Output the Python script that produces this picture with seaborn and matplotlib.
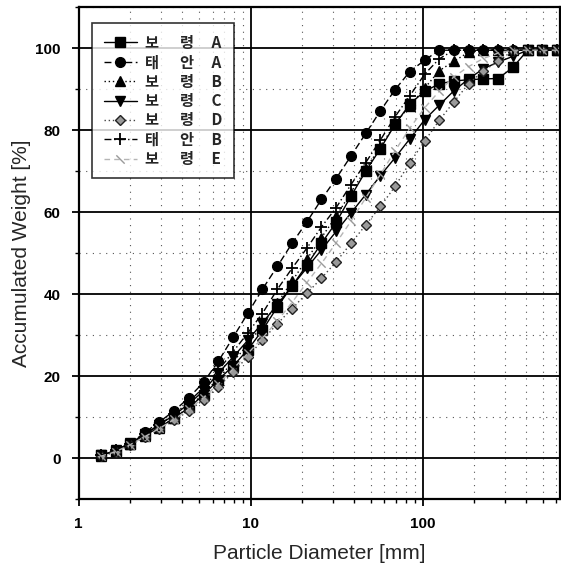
import numpy as np
import pandas as pd
import seaborn as sns
import matplotlib
matplotlib.use("Agg")
import matplotlib.pyplot as plt
from matplotlib.ticker import LogLocator, FixedLocator, NullFormatter, MultipleLocator

sns.set_style("white")
plt.rcParams['font.family'] = ['Liberation Sans', 'Noto Sans CJK KR', 'DejaVu Sans']

# sieve sizes [mm], shared by all samples
diameter = [1.34, 1.64, 1.99, 2.43, 2.95, 3.60, 4.38, 5.34, 6.50, 7.91,
            9.64, 11.7, 14.3, 17.4, 21.2, 25.8, 31.4, 38.3, 46.7, 56.8,
            69.2, 84.3, 103, 125, 152, 185, 226, 275, 335, 408, 497, 605]

# accumulated weight [%]
boryeong_a = [0.7, 1.8, 3.5, 5.6, 7.6, 9.8, 12.4, 15.5, 19.2, 22.5,
              26.5, 31.2, 36.9, 42.0, 47.1, 52.4, 57.5, 63.9, 70.0, 75.5,
              81.4, 86.4, 89.5, 91.3, 92.0, 92.3, 92.5, 92.6, 95.3, 99.5, 99.5, 99.5]
taean_a = [0.8, 2.0, 3.6, 6.3, 8.9, 11.6, 14.8, 18.6, 23.7, 29.5,
           35.4, 41.2, 46.8, 52.4, 57.6, 63.1, 68.2, 73.7, 79.2, 84.7,
           89.9, 94.3, 97.1, 99.5, 99.5, 99.5, 99.5, 99.5, 99.5, 99.5, 99.5, 99.5]
boryeong_b = [0.6, 1.7, 3.4, 5.5, 7.5, 9.8, 12.6, 15.8, 19.6, 23.5,
              27.8, 32.5, 37.8, 43.2, 48.5, 53.8, 59.0, 64.8, 70.5, 76.0,
              81.5, 86.0, 90.3, 94.5, 96.8, 99.0, 99.5, 99.5, 99.5, 99.5, 99.5, 99.5]
boryeong_c = [0.7, 1.9, 3.7, 5.9, 8.2, 10.6, 13.3, 16.5, 20.8, 24.7,
              28.8, 33.0, 37.5, 42.0, 46.4, 50.8, 55.3, 59.8, 64.3, 68.9,
              73.3, 77.9, 82.6, 86.1, 89.6, 92.5, 95.0, 96.6, 98.0, 99.5, 99.5, 99.5]
boryeong_d = [0.5, 1.5, 3.2, 5.2, 7.2, 9.3, 11.6, 14.3, 17.4, 21.0,
              24.8, 28.8, 32.8, 36.5, 40.2, 43.9, 47.9, 52.4, 56.9, 61.4,
              66.3, 72.1, 77.4, 82.4, 86.9, 91.3, 94.5, 96.8, 99.4, 99.5, 99.5, 99.5]
taean_b = [0.7, 1.9, 3.6, 5.9, 8.2, 10.8, 13.8, 17.3, 21.5, 26.0,
           30.6, 35.3, 41.2, 46.3, 51.2, 56.4, 61.1, 66.7, 72.1, 77.6,
           83.3, 88.4, 93.7, 97.4, 99.5, 99.5, 99.5, 99.5, 99.5, 99.5, 99.5, 99.5]
boryeong_e = [0.5, 1.6, 3.3, 5.3, 7.3, 9.5, 12.0, 14.8, 18.2, 21.8,
              25.6, 29.3, 33.5, 38.0, 42.8, 47.5, 52.5, 57.8, 63.5, 69.2,
              75.0, 80.5, 85.5, 89.5, 93.0, 95.5, 97.5, 98.8, 99.5, 99.5, 99.5, 99.5]

names = ["보령A", "태안A", "보령B", "보령C", "보령D", "태안B", "보령E"]
series = [boryeong_a, taean_a, boryeong_b, boryeong_c, boryeong_d, taean_b, boryeong_e]

df = pd.concat([pd.DataFrame({"d": diameter, "w": s, "sample": n})
                for n, s in zip(names, series)], ignore_index=True)

palette = {"보령A": "black", "태안A": "black", "보령B": "black", "보령C": "black",
           "보령D": "#444444", "태안B": "black", "보령E": "#b5b5b5"}
# seaborn won't mix filled and line markers, so + and \ are set afterwards
markers = {"보령A": "s", "태안A": "o", "보령B": "^", "보령C": "v",
           "보령D": "D", "태안B": "o", "보령E": "o"}
dashes = {"보령A": "", "태안A": (5, 2.5), "보령B": (1, 2), "보령C": "",
          "보령D": (1, 2), "태안B": (5, 2, 1, 2), "보령E": (4, 3)}

fig = plt.figure(figsize=(5.61, 5.67), dpi=100)
ax = fig.add_axes([0.1403, 0.1194, 0.858, 0.868])

sns.lineplot(ax=ax, data=df, x="d", y="w", hue="sample", style="sample",
             hue_order=names, style_order=names, palette=palette,
             markers=markers, dashes=dashes, sort=False, errorbar=None,
             legend=False, linewidth=1.0, markersize=7,
             markeredgecolor="black", markeredgewidth=1.0)

lines = ax.lines[:7]
for ln, n in zip(lines, names):
    if n == "보령D":
        ln.set_markerfacecolor("#9a9a9a")
        ln.set_markeredgecolor("#222222")
        ln.set_markersize(5.5)
    elif n == "태안B":
        ln.set_marker("+")
        ln.set_markeredgecolor("black")
        ln.set_markersize(8)
        ln.set_markeredgewidth(1.3)
    elif n == "보령E":
        ln.set_marker([(-1, 1), (1, -1)])
        ln.set_markeredgecolor("#9a9a9a")
        ln.set_markersize(6)
        ln.set_markeredgewidth(1.0)

ax.set_xscale("log")
ax.set_xlim(1, 630)
ax.set_ylim(-10, 110)

ax.xaxis.set_major_locator(FixedLocator([1, 10, 100]))
ax.set_xticklabels(["1", "10", "100"])
ax.xaxis.set_minor_locator(LogLocator(base=10, subs=np.arange(2, 10)))
ax.xaxis.set_minor_formatter(NullFormatter())
ax.yaxis.set_major_locator(FixedLocator([0, 20, 40, 60, 80, 100]))
ax.yaxis.set_minor_locator(MultipleLocator(10))

ax.grid(which="major", color="black", linewidth=1.3, linestyle="-")
ax.grid(which="minor", color="#555555", linewidth=0.8, linestyle=(0, (1, 5)))
ax.set_axisbelow(True)

for sp in ax.spines.values():
    sp.set_color("black")
    sp.set_linewidth(1.6)

ax.tick_params(which="major", direction="out", length=5, width=1.3, colors="black",
               left=True, bottom=True, labelsize=11, pad=8)
ax.tick_params(which="minor", direction="out", length=3, width=1.0, colors="black",
               left=True, bottom=True)
for lab in ax.get_xticklabels() + ax.get_yticklabels():
    lab.set_fontweight("bold")

ax.set_xlabel("Particle Diameter [mm]", fontsize=15, labelpad=9)
ax.set_ylabel("Accumulated Weight [%]", fontsize=15, labelpad=3)

labels = [f"{n[0]}      {n[1]}     {n[2]}" for n in names]
leg = ax.legend(lines, labels, loc="upper left", bbox_to_anchor=(0.028, 0.967),
                borderaxespad=0, frameon=True, fancybox=False, handlelength=2.2,
                handletextpad=0.5, labelspacing=0.22, borderpad=0.75,
                prop={"family": ["Noto Sans CJK KR", "DejaVu Sans"], "size": 11, "weight": "bold"})
leg.get_frame().set_edgecolor("black")
leg.get_frame().set_linewidth(1.2)

fig.savefig("out.png", dpi=100)
